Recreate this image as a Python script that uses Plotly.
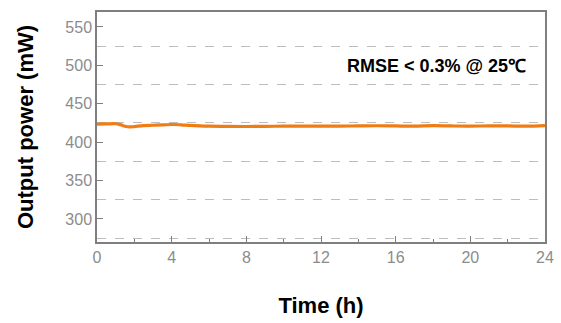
import plotly.graph_objects as go

time_h = [0, 0.5, 1.0, 1.25, 1.5, 1.75, 2.0, 2.5, 3.0, 3.5, 4.0, 4.5, 5.0, 5.5, 6.0,
          7.0, 8.0, 9.0, 10.0, 11.0, 12.0, 13.0, 14.0, 15.0, 16.0, 17.0, 18.0,
          19.0, 20.0, 21.0, 22.0, 23.0, 24.0]
power_mw = [423.5, 423.8, 424.0, 422.8, 420.8, 419.8, 420.3, 421.6, 422.0, 422.4, 423.0,
            422.6, 421.8, 421.2, 420.8, 420.5, 420.4, 420.6, 420.8, 420.9, 421.0,
            420.9, 421.2, 421.4, 421.1, 420.8, 421.5, 421.1, 420.9, 421.2, 421.1,
            420.8, 421.6]

x_ticks = [0, 4, 8, 12, 16, 20, 24]
y_ticks = [300, 350, 400, 450, 500, 550]
annotation_text = "RMSE < 0.3% @ 25\u2103"

fig = go.Figure()
fig.add_trace(go.Scatter(x=time_h, y=power_mw, mode="lines",
                         line=dict(color="#F07C14", width=3.2, shape="spline"),
                         showlegend=False))

axis_common = dict(showline=True, linecolor="#7f7f7f", linewidth=1.5, mirror=True,
                   ticks="inside", tickcolor="#7f7f7f", tickwidth=1.2, ticklen=6,
                   tickfont=dict(family="Liberation Sans, Arial", size=16, color="#8c8c8c"),
                   zeroline=False, automargin=False)

fig.update_xaxes(range=[0, 24], tickvals=x_ticks, showgrid=False,
                 minor=dict(ticks="inside", ticklen=3, dtick=2, tickcolor="#7f7f7f"),
                 title=dict(text="<b>Time (h)</b>", standoff=33,
                            font=dict(family="Liberation Sans, Arial", size=22, color="black")),
                 **axis_common)
fig.update_yaxes(range=[270, 569.5], tickvals=y_ticks, showgrid=False,
                 minor=dict(tick0=275, dtick=50, showgrid=True, griddash="dash",
                            gridcolor="#bdbdbd", gridwidth=1, ticks=""),
                 title=dict(text="<b>Output power (mW)</b>", standoff=26,
                            font=dict(family="Liberation Sans, Arial", size=22, color="black")),
                 **axis_common)

fig.add_annotation(x=18.2, y=499, xref="x", yref="y", text="<b>" + annotation_text + "</b>",
                   showarrow=False,
                   font=dict(family="Liberation Sans, Arial", size=18, color="black"))

fig.update_layout(width=561, height=323, plot_bgcolor="white", paper_bgcolor="white",
                  margin=dict(l=97, r=16, t=12, b=81))

fig.write_html("out.html", config={"displayModeBar": False},
               post_script="document.body.style.margin='0';document.body.style.overflow='hidden';document.documentElement.style.overflow='hidden';")
